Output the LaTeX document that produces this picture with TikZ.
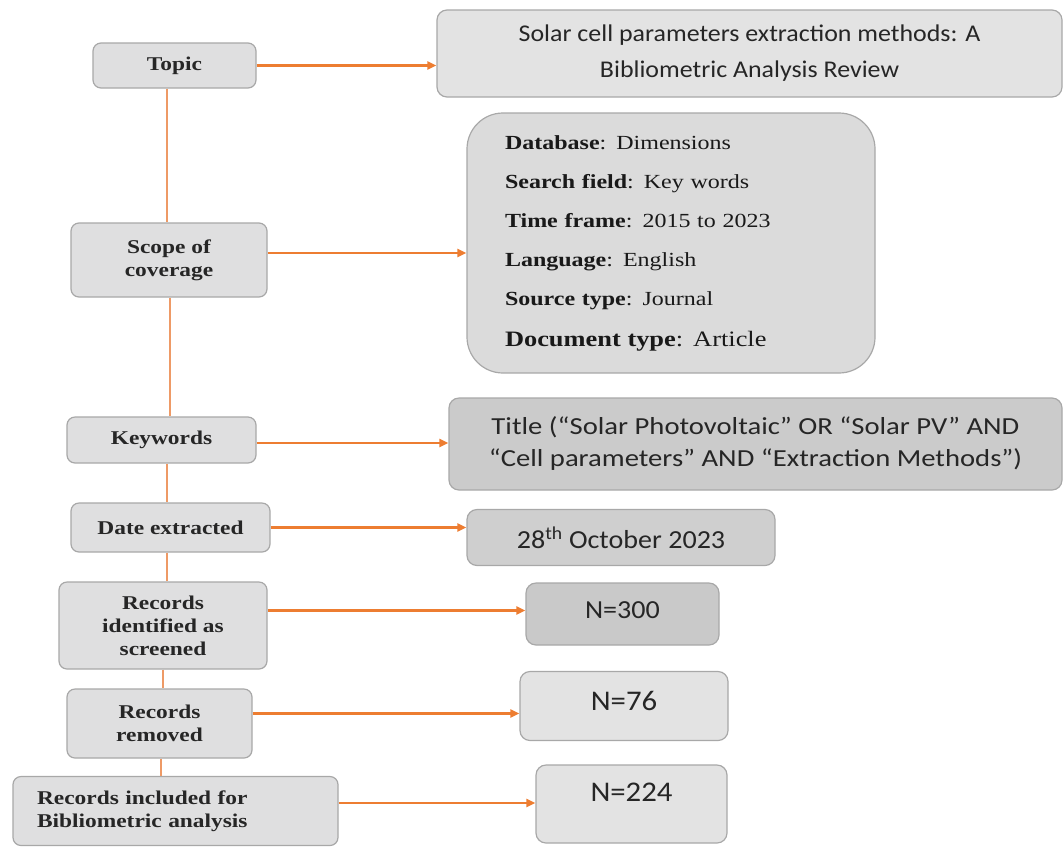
\documentclass[tikz,border=0pt]{standalone}
\usepackage{fontspec}
\newfontfamily\lfont[FakeStretch=1.2]{Liberation Serif}
\newfontfamily\cfont[FakeStretch=1.08]{Carlito}
\newfontfamily\cqfont[FakeStretch=1.17]{Carlito}
\usetikzlibrary{arrows.meta,calc}
\definecolor{orng}{HTML}{ED7D31}
\definecolor{vorng}{HTML}{EE9A66}
\definecolor{edge}{HTML}{A8A8A8}
\definecolor{lgray}{HTML}{DFDFE0}
\definecolor{tgray}{HTML}{E3E3E3}
\definecolor{dgray}{HTML}{DBDBDB}
\definecolor{kgray}{HTML}{CBCBCB}
\definecolor{mgray}{HTML}{CFCFCF}
\definecolor{ngray}{HTML}{C9C9C9}
\begin{document}
\begin{tikzpicture}[x=1pt,y=-1pt,
  lbox/.style={draw=edge, fill=lgray, rounded corners=8pt, line width=1.2pt, inner sep=0pt, align=center,
    font=\lfont\bfseries\fontsize{19.5}{23}\selectfont, text=black!85},
  rbox/.style={draw=edge, rounded corners=10pt, line width=1.2pt, inner sep=0pt, align=center,
    font=\cfont\fontsize{24}{36}\selectfont, text=black!85},
  arr/.style={draw=orng, line width=2.2pt, -{Triangle[length=9pt,width=8pt]}},
  vline/.style={draw=vorng, line width=1.5pt}]
\useasboundingbox (0,0) rectangle (1064,855);

% left column
\node[lbox, minimum width=163pt, minimum height=45pt] (topic) at (174.5,65.5) {Topic};
\node[lbox, minimum width=196pt, minimum height=74pt] (scope) at (169,260) {Scope of\\coverage};
\node[lbox, minimum width=189pt, minimum height=46pt] (keywords) at (161.5,440) {Keywords};
\node[lbox, minimum width=199pt, minimum height=49pt] (dateex) at (170.5,527.5) {Date extracted};
\node[lbox, minimum width=208pt, minimum height=87pt] (recid) at (163,625.5) {Records\\identified as\\screened};
\node[lbox, minimum width=185pt, minimum height=69pt] (removed) at (159.5,723.5) {Records\\removed};
\node[lbox, minimum width=325pt, minimum height=69pt, text width=277pt, inner xsep=24pt, align=left] (included) at (175.5,811) {Records included for\\Bibliometric analysis};

% right column
\node[rbox, fill=tgray, minimum width=625pt, minimum height=87pt] (title) at (749.5,53.5)
  {Solar cell parameters extraction methods: A\\Bibliometric Analysis Review};
\node[draw=edge, fill=dgray, rounded corners=36pt, line width=1.2pt, minimum width=408pt, minimum height=260pt,
  text width=332pt, inner xsep=38pt, inner ysep=0pt, align=left, text=black!90,
  font=\lfont\fontsize{20}{39}\selectfont] (details) at (671,243)
  {\textbf{Database}: Dimensions\\
   \textbf{Search field}: Key words\\
   \textbf{Time frame}: 2015 to 2023\\
   \textbf{Language}: English\\
   \textbf{Source type}: Journal\\[2pt]
   {\fontsize{22}{39}\selectfont\textbf{Document type}: Article}};
\node[rbox, fill=kgray, minimum width=613pt, minimum height=92pt, font=\cqfont\fontsize{24.5}{32}\selectfont] (titleq) at (755.5,444)
  {Title (“Solar Photovoltaic” OR “Solar PV” AND\\“Cell parameters” AND “Extraction Methods”)};
\node[rbox, fill=mgray, minimum width=308pt, minimum height=56pt, font=\cfont\fontsize{26}{30}\selectfont] (date) at (621,537.5)
  {28\textsuperscript{th} October 2023};
\node[rbox, fill=ngray, minimum width=193pt, minimum height=62pt, font=\cfont\fontsize{26}{30}\selectfont,
  text height=17pt, text depth=8pt] (n300) at (622.5,614) {N=300};
\node[rbox, fill=tgray, minimum width=208pt, minimum height=69pt, font=\cfont\fontsize{28.5}{32}\selectfont,
  text height=19pt, text depth=11pt] (n76) at (624,706) {N=76};
\node[rbox, fill=tgray, minimum width=191pt, minimum height=78pt, font=\cfont\fontsize{28.5}{32}\selectfont,
  text height=19pt, text depth=25pt] (n224) at (631.5,804) {N=224};

% spine connectors
\coordinate (spine) at (167,0);
\draw[vline] (topic.south -| spine) -- (scope.north -| spine);
\draw[vline] ([xshift=3pt]scope.south -| spine) -- ([xshift=3pt]keywords.north -| spine);
\draw[vline] (keywords.south -| spine) -- (dateex.north -| spine);
\draw[vline] (dateex.south -| spine) -- (recid.north -| spine);
\draw[vline] ([xshift=-4pt]recid.south -| spine) -- ([xshift=-4pt]removed.north -| spine);
\draw[vline] ([xshift=-6pt]removed.south -| spine) -- ([xshift=-6pt]included.north -| spine);

% arrows
\draw[arr] (topic.east) -- (title.west |- topic.east);
\coordinate (a2) at ([yshift=7pt]scope.east);
\draw[arr] (a2) -- (details.west |- a2);
\coordinate (a3) at ([yshift=-3pt]keywords.east);
\draw[arr] (a3) -- (titleq.west |- a3);
\draw[arr] (dateex.east) -- (date.west |- dateex.east);
\coordinate (a5) at ([yshift=15pt]recid.east);
\draw[arr] (a5) -- (n300.west |- a5);
\coordinate (a6) at ([yshift=10pt]removed.east);
\draw[arr] (a6) -- (n76.west |- a6);
\coordinate (a7) at ([yshift=8pt]included.east);
\draw[arr] (a7) -- (n224.west |- a7);
\end{tikzpicture}
\end{document}
